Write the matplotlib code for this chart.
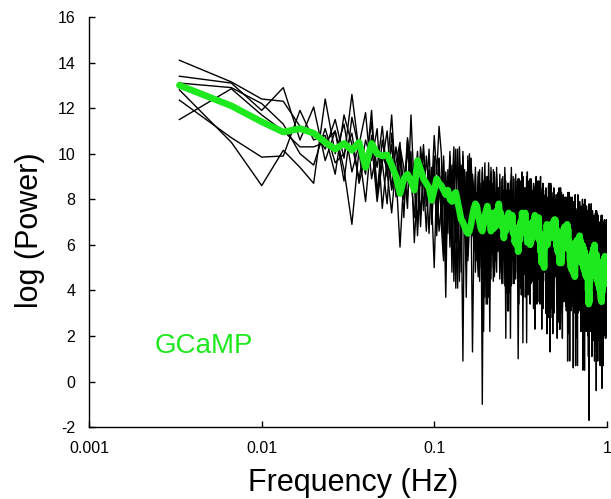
import numpy as np
import matplotlib
matplotlib.use('Agg')
import matplotlib.pyplot as plt
from matplotlib.ticker import NullLocator

plt.rcParams['font.family'] = ['Liberation Sans', 'DejaVu Sans']
plt.rcParams['axes.unicode_minus'] = False

# frequency bins, 1/300 Hz resolution (300 bins up to 1 Hz)
freq = np.arange(1, 301) / 300.0

# individual log power spectra (black)
trace_a = [14.1, 13.15, 12.4, 12.3, 11.2, 11.0, 10.2, 11.5, 9.8, 12.6, 10.1, 7.9, 10.8, 9.4, 11.2, 9.0, 10.4, 8.1, 9.9, 7.2,
           10.6, 8.8, 9.6, 6.4, 9.2, 10.1, 7.7, 9.0, 8.3, 10.8,
           9.1, 11.2, 10.0, 5.5, 8.4, 7.6, 9.6, 4.8, 8.8, 6.7, 10.2, 7.3, 8.1, 0.9, 9.3, 3.7, 8.7, 6.9, 9.8, 7.5,
           5.7, 7.9, 7.0, 9.2, 4.4, 8.3, 6.3, 7.6, 9.6, 5.4, 7.3, 3.7, 8.8, 6.5, 8.1, 5.0, 9.0, 7.1, 5.9, 8.2,
           7.2, 8.8, 5.8, 4.3, 8.2, 6.4, 9.1, 5.2, 7.5, 6.7, 3.1, 8.4, 6.0, 8.9, 5.5, 7.3, 4.6, 8.0, 7.1, 6.1,
           6.1, 8.9, 4.8, 7.5, 6.6, 8.2, 4.0, 7.0, 5.7, 8.5, 6.3, 7.6, 1.7, 7.9, 5.1, 8.8, 6.0, 7.2, 4.3, 8.0,
           8.1, 4.4, 6.9, 7.5, 5.2, 6.3, 9.0, 5.6, 3.5, 7.9, 7.1, 4.8, 8.4, 6.0, 6.8, 3.9, 8.5, 5.3, 7.2, 6.4,
           5.4, 7.6, 3.0, 6.9, 8.1, 5.8, 4.7, 8.6, 6.1, 7.2, 1.3, 7.8, 5.5, 6.4, 3.4, 8.0, 6.0, 8.5, 4.9, 6.8,
           7.3, 5.3, 8.2, 3.7, 6.6, 5.8, 7.8, 3.0, 7.0, 4.9, 8.4, 5.5, 6.3, 4.1, 7.5, 1.9, 6.9, 5.1, 8.0, 5.7,
           4.4, 6.6, 5.7, 7.9, 3.1, 7.0, 5.0, 6.3, 8.3, 4.1, 6.0, 2.4, 7.5, 5.2, 6.8, 3.7, 7.7, 5.8, 4.6, 6.9,
           6.0, 7.6, 4.6, 3.1, 7.0, 5.2, 7.9, 4.0, 6.3, 5.5, 1.9, 7.2, 4.8, 7.7, 4.3, 6.1, 3.4, 6.8, 5.9, 4.9,
           4.9, 7.7, 3.6, 6.3, 5.4, 7.0, 2.8, 5.8, 4.5, 7.3, 5.1, 6.4, 0.5, 6.7, 3.9, 7.6, 4.8, 6.0, 3.1, 6.8,
           6.9, 3.2, 5.7, 6.3, 4.0, 5.1, 7.8, 4.4, 2.3, 6.7, 5.9, 3.6, 7.2, 4.8, 5.6, 2.7, 7.3, 4.1, 6.0, 5.2,
           4.2, 6.4, 1.8, 5.7, 6.9, 4.6, 3.5, 7.4, 4.9, 6.0, -0.4, 6.6, 4.3, 5.2, 2.2, 6.8, 4.8, 7.3, 3.7, 5.6,
           6.1, 4.1, 7.0, 2.5, 5.4, 4.6, 6.6, 1.8, 5.8, 3.7, 7.2, 4.3, 5.1, 2.9, 6.3, 0.7, 5.7, 3.9, 6.8, 4.5,
           3.2, 5.4, 4.5, 6.7, 1.9, 5.8, 3.8, 5.1, 7.1, 2.9]

trace_b = [13.4, 13.1, 11.9, 12.9, 10.6, 12.05, 9.7, 11.0, 8.8, 11.6, 10.2, 9.1, 11.9, 8.2, 10.0, 9.3, 11.7, 8.6, 10.3, 9.4,
           7.6, 11.7, 8.3, 9.6, 6.8, 9.5, 8.0, 10.2, 7.5, 9.9,
           6.4, 8.6, 7.7, 9.9, 5.1, 9.0, 7.0, 8.3, 10.3, 6.1, 8.0, 4.4, 9.5, 7.2, 8.8, 5.7, 9.7, 7.8, 6.6, 8.9,
           7.5, 9.1, 6.1, 4.6, 8.5, 6.7, 9.4, 5.5, 7.8, 7.0, 3.4, 8.7, 6.3, 9.2, 5.8, 7.6, 4.9, 8.3, 7.4, 6.4,
           6.3, 9.1, 5.0, 7.7, 6.8, 8.4, 4.2, 7.2, 5.9, 8.7, 6.5, 7.8, 1.9, 8.1, 5.3, 9.0, 6.2, 7.4, 4.5, 8.2,
           8.3, 4.6, 7.1, 7.7, 5.4, 6.5, 9.2, 5.8, 3.7, 8.1, 7.3, 5.0, 8.6, 6.2, 7.0, 4.1, 8.7, 5.5, 7.4, 6.6,
           5.6, 7.8, 3.2, 7.1, 8.3, 6.0, 4.9, 8.8, 6.3, 7.4, 4.5, 8.0, 5.7, 6.6, 3.6, 8.2, 6.2, 8.7, 5.1, 7.0,
           7.5, 5.5, 8.4, 3.9, 6.8, 6.0, 8.0, 3.2, 7.2, 5.1, 8.6, 5.7, 6.5, 4.3, 7.7, 2.1, 7.1, 5.3, 8.2, 5.9,
           4.6, 6.8, 5.9, 8.1, 3.3, 7.2, 5.2, 6.5, 8.5, 4.3, 6.2, 2.6, 7.7, 5.4, 7.0, 3.9, 7.9, 6.0, 4.8, 7.1,
           6.2, 7.8, 4.8, 3.3, 7.2, 5.4, 8.1, 4.2, 6.5, 5.7, 2.1, 7.4, 5.0, 7.9, 4.5, 6.3, 3.6, 7.0, 6.1, 5.1,
           5.1, 7.9, 3.8, 6.5, 5.6, 7.2, 3.0, 6.0, 4.7, 7.5, 5.3, 6.6, 0.7, 6.9, 4.1, 7.8, 5.0, 6.2, 3.3, 7.0,
           7.1, 3.4, 5.9, 6.5, 4.2, 5.3, 8.0, 4.6, 2.5, 6.9, 6.1, 3.8, 7.4, 5.0, 5.8, 2.9, 7.5, 4.3, 6.2, 5.4,
           4.4, 6.6, 2.0, 5.9, 7.1, 4.8, -1.7, 7.6, 5.1, 6.2, 3.3, 6.8, 4.5, 5.4, 2.4, 7.0, 5.0, 7.5, 3.9, 5.8,
           6.3, 4.3, 7.2, 2.7, 5.6, 4.8, 6.8, 2.0, 6.0, 3.9, 7.4, 4.5, 5.3, 3.1, 6.5, 0.9, 5.9, 4.1, 7.0, 4.7,
           3.4, 5.6, 4.7, 6.9, 2.1, 6.0, 4.0, 5.3, 7.3, 3.1, 5.0, 1.4, 6.5, 4.2, 5.8, 2.7, 6.7, 4.8, 3.6, 5.9,
           5.0, 6.6, 3.6, 2.1, 6.0, 4.2, 6.9, 3.0, 5.3, 4.5]

trace_c = [12.8, 10.5, 8.6, 10.15, 9.4, 8.7, 12.4, 10.0, 11.3, 9.2, 10.4, 11.8, 8.9, 10.2, 9.6, 7.8, 10.9, 9.1, 10.2, 8.4,
           10.1, 8.9, 7.2, 9.8, 8.6, 10.4, 8.0, 9.3, 6.9, 9.0,
           8.2, 9.8, 6.8, 5.3, 9.2, 7.4, 10.1, 6.2, 8.5, 7.7, 4.1, 9.4, 7.0, 9.9, 6.5, 8.3, 5.6, 9.0, 8.1, 1.3,
           6.6, 9.4, 5.3, 8.0, 7.1, 8.7, 4.5, 7.5, 6.2, 9.0, 6.8, 8.1, 2.2, 8.4, 5.6, 9.3, 6.5, 7.7, 4.8, 8.5,
           8.5, 4.8, 7.3, 7.9, 5.6, 6.7, 9.4, 6.0, 3.9, 8.3, 7.5, 5.2, 8.8, 6.4, 7.2, 4.3, 8.9, 5.7, 7.6, 6.8,
           5.8, 8.0, 3.4, 7.3, 8.5, 6.2, 5.1, 9.0, 6.5, 7.6, 4.7, 8.2, 5.9, 6.8, 3.8, 8.4, 6.4, 8.9, 5.3, 7.2,
           7.7, 5.7, 8.6, 4.1, 7.0, 6.2, 8.2, 3.4, 7.4, 5.3, 8.8, 5.9, 6.7, 4.5, 7.9, 2.3, 7.3, 5.5, 8.4, 6.1,
           4.8, 7.0, 6.1, 8.3, 3.5, 7.4, 5.4, 6.7, 8.7, 4.5, 6.4, 2.8, 7.9, 5.6, 7.2, 4.1, 8.1, 6.2, 5.0, 7.3,
           6.4, 8.0, 5.0, 3.5, 7.4, 5.6, 8.3, 4.4, 6.7, 5.9, 2.3, 7.6, 5.2, 8.1, 4.7, 6.5, 3.8, 7.2, 6.3, 5.3,
           5.3, 8.1, 4.0, 6.7, 5.8, 7.4, 3.2, 6.2, 4.9, 7.7, 5.5, 6.8, 0.9, 7.1, 4.3, 8.0, 5.2, 6.4, 3.5, 7.2,
           7.3, 0.6, 6.1, 6.7, 4.4, 5.5, 8.2, 4.8, 2.7, 7.1, 6.3, 4.0, 7.6, 5.2, 6.0, 3.1, 7.7, 4.5, 6.4, 5.6,
           4.6, 6.8, 2.2, 6.1, 7.3, 5.0, 3.9, 7.8, 5.3, 6.4, 3.5, 7.0, 4.7, 5.6, 2.6, 7.2, 5.2, 7.7, 4.1, 6.0,
           6.5, 4.5, 7.4, 2.9, 5.8, 5.0, 7.0, 2.2, 6.2, 4.1, 7.6, 4.7, 5.5, 3.3, 6.7, 1.1, 6.1, 4.3, 7.2, 4.9,
           3.6, 5.8, 4.9, 7.1, 2.3, 6.2, 4.2, 5.5, 7.5, 3.3, 5.2, 1.6, 6.7, 4.4, 6.0, 2.9, 6.9, 5.0, 3.8, 6.1,
           5.2, 6.8, 3.8, 2.3, 6.2, 4.4, 7.1, 3.2, 5.5, 4.7, -0.3, 6.4, 4.0, 6.9, 3.5, 5.3, 2.6, 6.0, 5.1, 4.1,
           4.1, 6.9, 2.8, 5.5, 4.6, 6.2, 2.0, 5.0, 3.7, 6.5]

trace_d = [12.35, 10.7, 9.85, 9.9, 11.9, 10.6, 10.8, 9.1, 11.7, 10.4, 8.9, 10.6, 9.7, 11.1, 7.6, 9.8, 8.5, 10.3, 9.0, 8.2,
           10.7, 9.3, 8.4, 10.1, 7.3, 9.1, 8.8, 6.5, 9.4, 8.1,
           7.5, 9.8, 6.9, 8.7, 3.7, 9.3, 5.9, 8.1, 7.3, 10.2, 6.7, 8.8, 4.8, 9.6, 7.6, 8.4, 5.5, 10.0, 7.1, 9.1,
           8.2, 5.9, 7.1, 9.0, 5.0, 8.1, -1.0, 8.8, 3.7, 7.3, 5.4, 9.6, 7.6, 6.3, 8.3, 4.4, 9.2, 7.0, 7.9, 5.7,
           6.1, 7.1, 8.0, 4.6, 7.3, 5.5, 8.9, 6.0, 8.4, 3.1, 6.7, 7.5, 5.2, 9.1, 6.4, 8.2, 4.3, 5.8, 8.8, 7.2,
           8.0, 4.3, 7.2, 6.0, 8.8, 5.1, 7.9, 1.7, 7.6, 6.3, 8.5, 5.7, 7.0, 4.0, 8.2, 6.6, 7.5, 4.8, 8.9, 6.1,
           6.4, 7.2, 5.3, 8.5, 3.9, 6.8, 6.0, 8.4, 4.8, 7.1, 7.9, 3.5, 5.6, 9.0, 6.3, 5.2, 7.5, 6.9, 4.4, 8.1,
           6.8, 4.9, 8.5, 6.0, 8.0, 3.4, 6.4, 5.5, 7.8, 4.3, 7.2, 6.1, 8.6, 4.7, 5.8, 8.1, 6.9, 3.0, 7.6, 5.4,
           5.7, 8.0, 5.1, 6.9, 1.9, 7.5, 4.1, 6.3, 5.5, 8.4, 4.9, 7.0, 3.0, 7.8, 5.8, 6.6, 3.7, 8.2, 5.3, 7.3,
           6.9, 4.6, 5.8, 7.7, 3.7, 6.8, 5.2, 7.5, 2.4, 6.0, 4.1, 8.3, 6.3, 5.0, 7.0, 3.1, 7.9, 5.7, 6.6, 4.4,
           4.9, 5.9, 6.8, 3.4, 6.1, 4.3, 7.7, 4.8, 7.2, 1.9, 5.5, 6.3, 4.0, 7.9, 5.2, 7.0, 3.1, 4.6, 7.6, 6.0,
           6.8, 3.1, 6.0, 4.8, 7.6, 3.9, 6.7, 0.5, 6.4, 5.1, 7.3, 4.5, 5.8, 2.8, 7.0, 5.4, 6.3, 3.6, 7.7, 4.9,
           5.2, 6.0, 4.1, 7.3, 2.7, 5.6, 4.8, 7.2, 3.6, 5.9, 6.7, 2.3, 4.4, 7.8, 5.1, 4.0, 6.3, 5.7, 3.2, 6.9,
           5.6, 3.7, 7.3, 4.8, 6.8, 2.2, 5.2, 4.3, 6.6, 3.1, 6.0, 4.9, 7.4, 3.5, 4.6, 6.9, 5.7, 1.8, 6.4, 4.2,
           4.5, 6.8, 3.9, 5.7, 0.7, 6.3, 2.9, 5.1, 4.3, 7.2, 3.7, 5.8, 1.8, 6.6, 4.6, 5.4, 2.5, 7.0, 4.1, 6.1,
           2.9, 7.1, 5.1, 3.8, 5.8, 1.9, 6.7, 4.5, 5.4, 3.2]

trace_e = [11.5, 12.85, 11.7, 11.0, 10.3, 10.3, 10.5, 11.0, 9.3, 6.9, 10.2, 9.5, 11.4, 8.3, 10.6, 9.2, 7.4, 9.6, 10.5, 8.0,
           8.9, 10.1, 6.1, 8.7, 9.7, 7.5, 9.9, 8.5, 7.9, 5.0,
           8.9, 6.6, 7.8, 9.7, 5.7, 8.8, 7.2, 9.5, 4.4, 8.0, 6.1, 10.3, 8.3, 7.0, 9.0, 5.1, 9.9, 7.7, 8.6, 6.4,
           6.4, 7.4, 8.3, 4.9, 7.6, 5.8, 9.2, 6.3, 8.7, 3.4, 7.0, 7.8, 5.5, 9.4, 6.7, 8.5, 4.6, 6.1, 9.1, 7.5,
           8.2, 4.5, 7.4, 6.2, 9.0, 5.3, 8.1, 1.9, 7.8, 6.5, 8.7, 5.9, 7.2, 4.2, 8.4, 6.8, 7.7, 5.0, 9.1, 6.3,
           6.6, 1.0, 5.5, 8.7, 4.1, 7.0, 6.2, 8.6, 5.0, 7.3, 8.1, 3.7, 5.8, 9.2, 6.5, 5.4, 7.7, 7.1, 4.6, 8.3,
           7.0, 5.1, 8.7, 6.2, 8.2, 3.6, 6.6, 5.7, 8.0, 4.5, 7.4, 6.3, 8.8, 4.9, 6.0, 8.3, 7.1, 3.2, 7.8, 5.6,
           5.9, 8.2, 5.3, 7.1, 2.1, 7.7, 4.3, 6.5, 5.7, 8.6, 5.1, 7.2, 3.2, 8.0, 6.0, 6.8, 3.9, 8.4, 5.5, 7.5,
           7.1, 4.8, 6.0, 7.9, 3.9, 7.0, 5.4, 7.7, 2.6, 6.2, 4.3, 8.5, 6.5, 5.2, 7.2, 3.3, 8.1, 5.9, 6.8, 4.6,
           5.1, 6.1, 7.0, 3.6, 6.3, 4.5, 7.9, 5.0, 7.4, 2.1, 5.7, 6.5, 4.2, 8.1, 5.4, 7.2, 3.3, 4.8, 7.8, 6.2,
           7.0, 3.3, 6.2, 5.0, 7.8, 4.1, 6.9, 0.7, 6.6, 5.3, 7.5, 4.7, 6.0, 3.0, 7.2, 5.6, 6.5, 3.8, 7.9, 5.1,
           5.4, 6.2, 4.3, 7.5, 2.9, 5.8, 5.0, 7.4, 3.8, 6.1, 6.9, 2.5, 4.6, 8.0, 5.3, 4.2, 6.5, 5.9, 3.4, 7.1,
           5.8, 3.9, 7.5, 5.0, 7.0, 2.4, 5.4, 4.5, 6.8, 3.3, 6.2, 5.1, 7.6, 3.7, 4.8, 7.1, 5.9, 2.0, 6.6, 4.4,
           4.7, 7.0, 4.1, 5.9, 0.9, 6.5, 3.1, 5.3, 4.5, 7.4, 3.9, 6.0, 2.0, 6.8, 4.8, 5.6, 2.7, 7.2, 4.3, 6.3,
           5.9, 3.6, 4.8, 6.7, 2.7, 5.8, 4.2, 6.5, 1.4, 5.0, 3.1, 7.3, 5.3, 4.0, 6.0, 2.1, 6.9, 4.7, 5.6, 3.4,
           4.5, 5.3, 3.0, 6.9, 4.2, 6.0, 2.1, 3.6, 6.6, 5.0]

trace_f = [13.1, 12.9, 12.2, 11.3, 10.0, 9.5, 11.1, 9.6, 10.0, 10.9, 8.7, 9.9, 10.5, 7.9, 9.6, 11.0, 8.4, 9.2, 5.9, 9.0,
           8.1, 9.8, 8.5, 7.0, 10.3, 8.9, 6.6, 9.1, 8.2, 9.6,
           7.1, 8.1, 9.0, 5.6, 8.3, 6.5, 9.9, 7.0, 9.4, 4.1, 7.7, 8.5, 6.2, 10.1, 7.4, 9.2, 5.3, 6.8, 9.8, 8.2,
           8.5, 4.8, 7.7, 6.5, 9.3, 5.6, 8.4, 2.2, 8.1, 6.8, 9.0, 6.2, 7.5, 4.5, 8.7, 7.1, 8.0, 5.3, 9.4, 6.6,
           6.8, 7.6, 5.7, 8.9, 4.3, 7.2, 6.4, 8.8, 5.2, 7.5, 8.3, 3.9, 6.0, 9.4, 6.7, 5.6, 7.9, 7.3, 4.8, 8.5,
           7.2, 5.3, 8.9, 6.4, 8.4, 3.8, 6.8, 5.9, 8.2, 4.7, 7.6, 6.5, 9.0, 5.1, 6.2, 8.5, 7.3, 3.4, 8.0, 5.8,
           6.1, 8.4, 5.5, 7.3, 2.3, 7.9, 4.5, 6.7, 5.9, 8.8, 5.3, 7.4, 3.4, 8.2, 6.2, 7.0, 4.1, 8.6, 5.7, 7.7,
           7.3, 5.0, 6.2, 8.1, 4.1, 7.2, 5.6, 7.9, 2.8, 6.4, 4.5, 8.7, 6.7, 5.4, 7.4, 3.5, 8.3, 6.1, 7.0, 4.8,
           5.3, 6.3, 7.2, 3.8, 6.5, 4.7, 8.1, 5.2, 7.6, 2.3, 5.9, 6.7, 4.4, 8.3, 5.6, 7.4, 3.5, 5.0, 8.0, 6.4,
           7.2, 3.5, 6.4, 5.2, 8.0, 4.3, 7.1, 0.9, 6.8, 5.5, 7.7, 4.9, 6.2, 3.2, 7.4, 5.8, 6.7, 4.0, 8.1, 5.3,
           5.6, 6.4, 4.5, 7.7, 3.1, 6.0, 5.2, 7.6, 4.0, 6.3, 7.1, 2.7, 4.8, 8.2, 5.5, 4.4, 6.7, 6.1, 3.6, 7.3,
           6.0, 4.1, 7.7, 5.2, 7.2, 2.6, 5.6, 4.7, 7.0, 3.5, 6.4, 5.3, 7.8, 3.9, 5.0, 7.3, 6.1, 2.2, 6.8, 4.6,
           4.9, 7.2, 4.3, 6.1, 1.1, 6.7, 3.3, 5.5, 4.7, 7.6, 4.1, 6.2, 2.2, 7.0, 5.0, 5.8, 2.9, 7.4, 4.5, 6.5,
           6.1, 3.8, 5.0, 6.9, 2.9, 6.0, 4.4, 6.7, 1.6, 5.2, 3.3, 7.5, 5.5, 4.2, 6.2, 2.3, 7.1, 4.9, 5.8, 3.6,
           4.1, 5.1, 6.0, 2.6, 5.3, 3.5, 6.9, 4.0, 6.4, 1.1, 4.7, 5.5, 3.2, 7.1, 4.4, 6.2, 2.3, 3.8, 6.8, 5.2,
           6.5, 3.7, 5.0, 2.0, 6.2, 4.6, 5.5, 2.8, 6.9, 4.1]

# GCaMP mean spectrum (green)
gcamp_mean = [13.0, 12.1, 11.4, 10.95, 11.1, 10.9, 10.5, 10.2, 10.45, 10.15, 10.5, 9.4, 10.45, 10.0, 9.9, 9.95, 9.5, 9.0, 8.25, 8.9,
              9.1, 8.8, 8.4, 9.7, 9.3, 8.9, 8.7, 8.5, 7.95, 8.4,
              8.9, 8.7, 8.6, 8.4, 8.2, 8.4, 8.0, 7.9, 8.2, 8.3, 7.9, 7.5, 7.1, 7.0, 6.8, 6.6, 6.5, 6.6, 6.9, 7.3,
              7.6, 7.8, 7.7, 7.3, 7.0, 6.7, 6.6, 6.9, 7.3, 7.5,
              7.7, 7.1, 7.2, 6.6, 7.4, 6.7, 7.0, 6.8, 7.5, 7.3, 7.8, 7.3, 7.4, 6.8, 7.0, 6.3, 6.9, 6.6, 7.2, 6.9,
              7.4, 6.8, 7.2, 6.9, 7.3, 6.5, 6.8, 6.1, 6.5, 6.0, 6.4, 5.7, 6.5, 6.2, 7.0, 6.6, 7.4, 6.7, 7.2, 6.7,
              7.4, 6.5, 6.9, 6.1, 6.6, 6.1, 6.9, 6.0, 6.6, 6.2, 7.0, 6.5, 6.9, 6.6, 7.3, 6.5, 7.0, 6.6, 7.1, 6.3,
              7.2, 6.2, 6.5, 5.7, 6.0, 5.2, 5.6, 5.3, 5.7, 5.0, 6.1, 5.9, 6.3, 6.1, 6.9, 6.0, 6.8, 6.4, 6.7, 6.3,
              6.8, 6.5, 6.9, 6.4, 6.8, 6.6, 7.0, 6.3, 7.1, 6.4, 7.1, 6.3, 6.7, 5.9, 6.6, 5.7, 6.1, 5.6, 5.9, 5.2,
              5.7, 5.3, 5.6, 5.2, 6.1, 5.8, 6.2, 5.9, 6.7, 6.0, 6.8, 5.9, 6.7, 6.3, 6.6, 6.2, 6.9, 5.9, 6.7, 5.8,
              6.2, 5.8, 6.1, 5.3, 6.0, 5.0, 5.8, 4.9, 5.3, 5.0, 5.2, 4.8, 5.1, 4.7, 5.6, 4.6, 5.5, 5.2, 5.7, 5.4,
              6.2, 5.3, 6.1, 5.8, 6.2, 5.9, 6.3, 5.5, 6.4, 5.9, 6.2, 5.7, 6.0, 5.6, 5.9, 5.2, 6.0, 5.1, 5.9, 5.0,
              5.8, 4.9, 5.7, 4.8, 5.6, 4.7, 5.5, 4.6, 5.4, 4.7, 5.1, 4.7, 4.9, 4.0, 4.3, 3.4, 3.9, 3.5, 4.5, 4.4,
              5.3, 5.0, 5.4, 5.1, 5.5, 5.2, 5.6, 5.3, 5.7, 4.9, 5.8, 5.0, 5.9, 5.1, 6.0, 5.2, 5.6, 5.3, 5.5, 4.7,
              5.6, 4.6, 5.4, 4.5, 5.3, 4.4, 5.2, 4.3, 5.1, 4.2, 5.0, 4.1, 4.9, 4.0, 4.8, 3.9, 4.3, 3.6, 4.4, 3.5,
              4.2, 3.9, 4.8, 4.1, 5.0, 4.3, 5.2, 4.4, 5.3, 4.5, 5.4, 4.6, 5.5, 4.5, 5.3, 4.4, 5.2, 4.3, 5.1, 4.8]

traces = [trace_a, trace_b, trace_c, trace_d, trace_e, trace_f]
green = '#1ee81e'

fig, ax = plt.subplots(figsize=(6.11, 4.99), dpi=100)
fig.subplots_adjust(left=0.146, right=0.993, top=0.966, bottom=0.144)

for tr in traces:
    ax.plot(freq, tr, color='black', lw=1.0)
ax.plot(freq, gcamp_mean, color=green, lw=4.8, solid_joinstyle='round', solid_capstyle='round')

ax.set_xscale('log')
ax.set_xlim(0.001, 1)
ax.set_ylim(-2, 16)
ax.set_xticks([0.001, 0.01, 0.1, 1])
ax.set_xticklabels(['0.001', '0.01', '0.1', '1'])
ax.xaxis.set_minor_locator(NullLocator())
ax.set_yticks(range(-2, 17, 2))

for s in ['top', 'right']:
    ax.spines[s].set_visible(False)
for s in ['left', 'bottom']:
    ax.spines[s].set_linewidth(1.0)
ax.tick_params(direction='in', length=4, width=1, labelsize=11.5, pad=10)

ax.set_xlabel('Frequency (Hz)', fontsize=22)
ax.set_ylabel('log (Power)', fontsize=22)
ax.xaxis.set_label_coords(0.51, -0.1)
ax.yaxis.set_label_coords(-0.085, 0.48)

ax.text(0.00238, 1.56, 'GCaMP', color=green, fontsize=20, ha='left', va='center')

plt.savefig('out.png', dpi=100)
